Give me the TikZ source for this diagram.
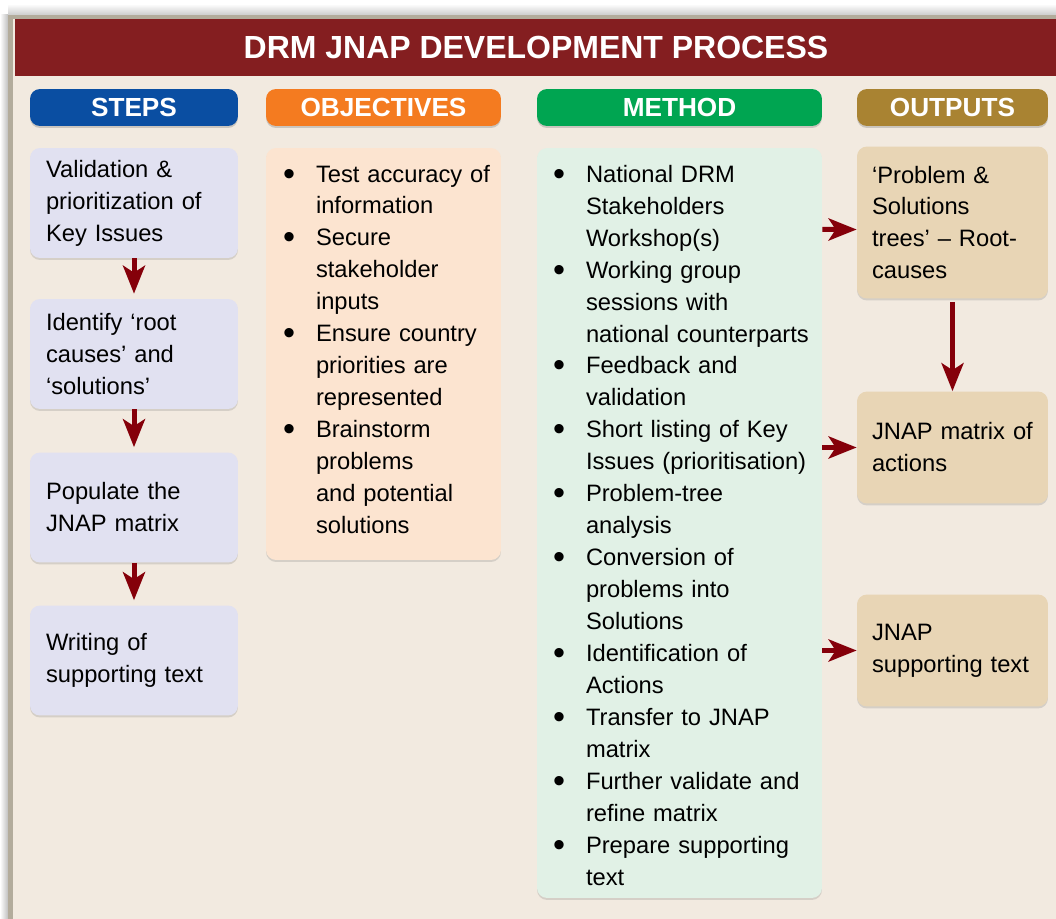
\documentclass[tikz,border=0pt]{standalone}
\usepackage{fontspec}
\setmainfont{Liberation Sans}
\usepackage{enumitem}
\usetikzlibrary{arrows.meta,
                 shadows}

\definecolor{titlered}{HTML}{841E20}
\definecolor{paper}{HTML}{F2EAE0}
\definecolor{framegray}{HTML}{B3AC9C}
\definecolor{stepblue}{HTML}{0A4EA2}
\definecolor{objorange}{HTML}{F47B20}
\definecolor{methgreen}{HTML}{00A551}
\definecolor{outgold}{HTML}{A98332}
\definecolor{stepfill}{HTML}{E1E1F1}
\definecolor{objfill}{HTML}{FCE4D0}
\definecolor{methfill}{HTML}{E1F1E6}
\definecolor{outfill}{HTML}{E8D5B5}
\definecolor{arrred}{HTML}{85000A}

\newcommand\bodyfont{\fontsize{13.5}{18.2}\selectfont}
\newcommand\bigdot{\raisebox{-0.06cm}{\fontsize{19.5}{19.5}\selectfont\textbullet}}
% pads the bottom of a list so the text sits higher in its card
\newcommand\padbottom[1]{\par\vskip#1\hrule height0pt width0pt}
\newlist{bulletlist}{itemize}{1}
\setlist[bulletlist]{label=\bigdot, leftmargin=0.88cm, labelsep=0.42cm,
  itemsep=0pt, parsep=0pt, topsep=0pt, partopsep=0pt}

\tikzset{
  hdr/.style={rounded corners=0.2cm, minimum height=0.74cm, inner sep=0pt,
    text=white, font=\bfseries\fontsize{14.9}{16}\selectfont,
    drop shadow={shadow xshift=0pt, shadow yshift=-0.04cm, opacity=.35}},
  card/.style={rounded corners=0.2cm, align=left, font=\bodyfont,
    drop shadow={shadow xshift=0pt, shadow yshift=-0.04cm, opacity=.25}},
  stepbox/.style={card, fill=stepfill, minimum height=2.2cm,
    text width=3.52cm, inner xsep=0.32cm},
  listbox/.style={card, inner ysep=0pt},
  outbox/.style={card, fill=outfill, minimum height=2.24cm,
    text width=3.22cm, inner xsep=0.3cm},
  arr/.style={draw=arrred, line width=0.1cm,
    -{Stealth[length=0.56cm, width=0.44cm, inset=0.14cm]}}
}

\begin{document}
\begin{tikzpicture}[x=0.02cm, y=-0.02cm]
  \useasboundingbox (0,0) rectangle (1056,919);
  \fill[white] (0,0) rectangle (1056,919);
  \shade[left color=white, right color=black!25] (0,15) rectangle (8,919);
  \shade[top color=white, bottom color=black!20] (8,4) rectangle (1056,15);
  \fill[framegray] (8,15) rectangle (1056,919);
  \fill[paper] (13,19) rectangle (1056,919);

  \node[fill=titlered, minimum width=20.86cm, minimum height=1.14cm, inner sep=0pt,
    text=white, font=\bfseries\fontsize{18.2}{20}\selectfont] (title) at (536,47.5)
    {DRM JNAP DEVELOPMENT PROCESS};

  \node[hdr, fill=stepblue, minimum width=4.16cm] (hsteps) at (134,107.5) {STEPS};
  \node[hdr, fill=objorange, minimum width=4.7cm] (hobj) at (383.5,107.5) {OBJECTIVES};
  \node[hdr, fill=methgreen, minimum width=5.7cm] (hmeth) at (679.5,107.5) {METHOD};
  \node[hdr, fill=outgold, minimum width=3.82cm] (hout) at (952.5,107.5) {OUTPUTS};

  \node[stepbox] (s1) at (134,203) {Validation \&\\prioritization of\\Key Issues};
  \node[stepbox] (s2) at (134,354) {Identify ‘root\\causes’ and\\‘solutions’};
  \node[stepbox] (s3) at (134,507.5) {Populate the\\JNAP matrix};
  \node[stepbox] (s4) at (134,660.5) {Writing of\\supporting text};

  \node[listbox, fill=objfill, minimum height=8.24cm, text width=4.46cm, inner xsep=0.12cm]
    (obj) at (383.5,354) {%
    \begin{bulletlist}
      \item Test accuracy of\\information
      \item Secure\\stakeholder\\inputs
      \item Ensure country\\priorities are\\represented
      \item Brainstorm\\problems\\and potential\\solutions
    \end{bulletlist}\padbottom{0.48cm}};

  \node[listbox, fill=methfill, minimum height=15cm, text width=5.5cm, inner xsep=0.1cm]
    (meth) at (679.5,523) {%
    \begin{bulletlist}
      \item National DRM\\Stakeholders\\Workshop(s)
      \item Working group\\sessions with\\national counterparts
      \item Feedback and\\validation
      \item Short listing of Key\\Issues (prioritisation)
      \item Problem-tree\\analysis
      \item Conversion of\\problems into\\Solutions
      \item Identification of\\Actions
      \item Transfer to JNAP\\matrix
      \item Further validate and\\refine matrix
      \item Prepare supporting\\text
    \end{bulletlist}\padbottom{0.2cm}};

  \node[outbox, minimum height=3.04cm] (o1) at (952.5,222.5)
    {‘Problem \&\\Solutions\\trees’ – Root-\\causes};
  \node[outbox] (o2) at (952.5,447.5) {JNAP matrix of\\actions};
  \node[outbox] (o3) at (952.5,650.5) {JNAP\\supporting text};

  \draw[arr, shorten >=0.1cm] (s1) -- (s2);
  \draw[arr, shorten >=0.1cm] (s2) -- (s3);
  \draw[arr, shorten >=0.1cm] (s3) -- (s4);
  \draw[arr, shorten <=0.06cm] (o1) -- (o2);
  \draw[arr] (meth.east |- o1.west) ++(0,7) -- ([yshift=-0.14cm]o1.west);
  \draw[arr] (meth.east |- o2.west) -- (o2.west);
  \draw[arr] (meth.east |- o3.west) -- (o3.west);
\end{tikzpicture}
\end{document}
